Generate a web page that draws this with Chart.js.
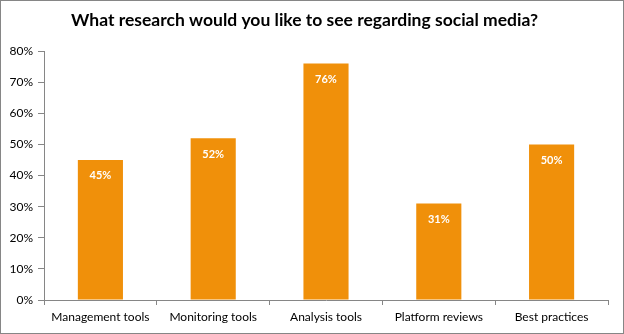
<!DOCTYPE html>
<html>
<head>
<meta charset="utf-8">
<script src="https://cdn.jsdelivr.net/npm/chart.js@4/dist/chart.umd.min.js"></script>
<style>
  html, body { margin: 0; padding: 0; background: #fff; }
  .wrap { width: 622px; height: 332px; border: 1px solid #868686; }
</style>
</head>
<body>
<div class="wrap"><canvas id="chart" width="622" height="332"></canvas></div>
<script>
const categories = ["Management tools", "Monitoring tools", "Analysis tools", "Platform reviews", "Best practices"];
const values = [45, 52, 76, 31, 50];
const yTicks = [0, 10, 20, 30, 40, 50, 60, 70, 80];

// white value labels inside the top of each bar
const barLabels = {
  id: "barLabels",
  afterDatasetsDraw(chart) {
    const ctx = chart.ctx;
    const meta = chart.getDatasetMeta(0);
    ctx.save();
    ctx.fillStyle = "#ffffff";
    ctx.font = "bold 11px Lato, 'Noto Sans', sans-serif";
    ctx.textAlign = "center";
    ctx.textBaseline = "middle";
    meta.data.forEach((bar, i) => {
      ctx.fillText(values[i] + "%", bar.x, bar.y + 16);
    });
    ctx.restore();
  }
};

new Chart(document.getElementById("chart"), {
  type: "bar",
  data: {
    labels: categories,
    datasets: [{
      data: values,
      backgroundColor: "#F0900A",
      categoryPercentage: 0.4,
      barPercentage: 1.0
    }]
  },
  options: {
    responsive: false,
    animation: false,
    layout: { padding: { left: 0, right: 15, top: 0, bottom: 0 } },
    plugins: {
      legend: { display: false },
      tooltip: { enabled: false },
      title: {
        display: true,
        text: "What research would you like to see regarding social media?",
        color: "#000",
        font: { family: "Lato, 'Noto Sans', sans-serif", size: 17.5, weight: "bold" },
        padding: { top: 9, bottom: 20 }
      }
    },
    scales: {
      x: {
        grid: { display: true, drawOnChartArea: false, tickLength: 5, color: "#868686", offset: true },
        border: { display: true, color: "#868686" },
        ticks: { color: "#000", font: { family: "Lato, 'Noto Sans', sans-serif", size: 12 }, padding: 5, maxRotation: 0 },
        afterFit(scale) { scale.height = 33; }
      },
      y: {
        min: 0,
        max: 80,
        afterBuildTicks(scale) { scale.ticks = yTicks.map(v => ({ value: v })); },
        grid: { display: true, drawOnChartArea: false, tickLength: 6, color: "#868686" },
        border: { display: true, color: "#868686" },
        ticks: {
          color: "#000",
          font: { family: "Lato, 'Noto Sans', sans-serif", size: 12 },
          padding: 5,
          callback: v => v + "%"
        },
        afterFit(scale) { scale.width = 43; }
      }
    }
  },
  plugins: [barLabels]
});
</script>
</body>
</html>
